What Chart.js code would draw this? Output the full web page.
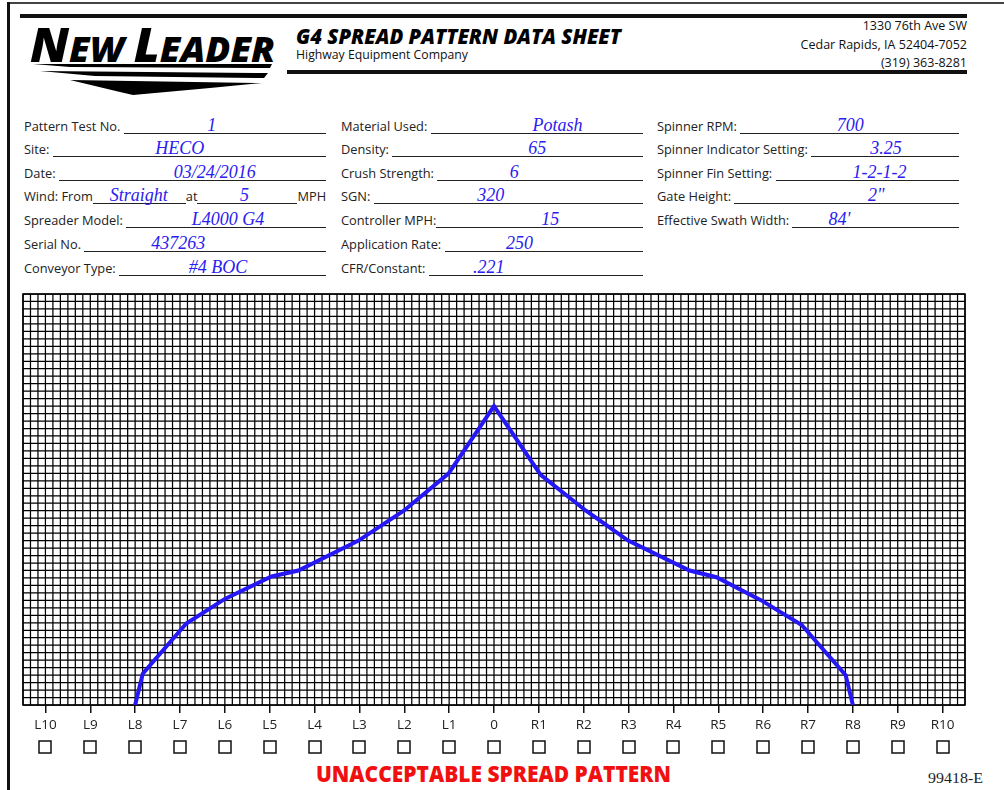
<!DOCTYPE html>
<html>
<head>
<meta charset="utf-8">
<title>G4 Spread Pattern Data Sheet</title>
<script src="https://cdn.jsdelivr.net/npm/chart.js@4.4.1/dist/chart.umd.min.js"></script>
<style>
  html, body { margin: 0; padding: 0; background: #fff; }
  body { width: 1004px; height: 790px; position: relative; overflow: hidden; font-family: "Open Sans", sans-serif; color: #222; }
  .rule { position: absolute; background: #111; }
  svg.sheet { position: absolute; left: 0; top: 0; }
  .row { position: absolute; height: 15px; display: flex; align-items: flex-end; font-size: 12.8px; line-height: 15px; white-space: nowrap; }
  .row .line { flex: 1; height: 14px; border-bottom: 1.3px solid #222; position: relative; }
  .row .line.fixed { flex: none; }
  .row i { position: absolute; bottom: -1px; transform: translateX(-50%); font-family: "Liberation Serif", serif; font-style: italic; font-size: 18px; line-height: 18px; color: #2a20f0; }
  #chartBox { position: absolute; left: 0; top: 280px; width: 1004px; height: 480px; }
</style>
</head>
<body>

<div class="rule" style="left:8px;top:2px;width:996px;height:2px;background:#444"></div>
<div class="rule" style="left:7px;top:2px;width:3px;height:788px"></div>
<div class="rule" style="left:20px;top:14px;width:947px;height:4px"></div>
<div class="rule" style="left:287px;top:70px;width:680px;height:4px"></div>

<svg class="sheet" width="1004" height="790">
  <!-- logo -->
  <text x="30" y="62" font-family="Open Sans" font-weight="800" font-style="italic" fill="#000" textLength="245" lengthAdjust="spacingAndGlyphs"><tspan font-size="47">N</tspan><tspan font-size="35">EW </tspan><tspan font-size="47">L</tspan><tspan font-size="35">EADER</tspan></text>
  <polygon points="33,64 272,64 270,68 70,67" fill="#000"/>
  <polygon points="40,71 268,73 264,78 95,76" fill="#000"/>
  <polygon points="70,80 262,83 210,88 133,95 120,92" fill="#000"/>
  <!-- title block -->
  <text x="296" y="44" font-family="Open Sans" font-weight="800" font-style="italic" font-size="21" fill="#000" textLength="325" lengthAdjust="spacingAndGlyphs">G4 SPREAD PATTERN DATA SHEET</text>
  <text x="296" y="59" font-family="Open Sans" font-size="12.5" fill="#111" textLength="172" lengthAdjust="spacingAndGlyphs">Highway Equipment Company</text>
  <g font-family="Open Sans" font-size="12.5" fill="#111" text-anchor="end">
    <text x="967" y="30">1330 76th Ave SW</text>
    <text x="967" y="49">Cedar Rapids, IA 52404-7052</text>
    <text x="967" y="67">(319) 363-8281</text>
  </g>
  <!-- footer -->
  <text x="316" y="782" font-family="Open Sans" font-weight="800" font-size="22" fill="#f01010" textLength="355" lengthAdjust="spacingAndGlyphs">UNACCEPTABLE SPREAD PATTERN</text>
  <text x="928" y="783" font-family="Liberation Serif" font-size="14.5" fill="#222" textLength="55" lengthAdjust="spacingAndGlyphs">99418-E</text>
</svg>

<!-- column 1 -->
<div class="row" style="left:24px;top:119px;width:302px"><span>Pattern Test No.&nbsp;</span><span class="line"><i style="left:88px">1</i></span></div>
<div class="row" style="left:24px;top:142px;width:302px"><span>Site:&nbsp;</span><span class="line"><i style="left:127px">HECO</i></span></div>
<div class="row" style="left:24px;top:166px;width:302px"><span>Date:&nbsp;</span><span class="line"><i style="left:156px">03/24/2016</i></span></div>
<div class="row" style="left:24px;top:189px;width:305px"><span>Wind: From</span><span class="line fixed" style="width:93px"><i style="left:46px">Straight</i></span><span>at</span><span class="line fixed" style="width:100px"><i style="left:47px">5</i></span><span>MPH</span></div>
<div class="row" style="left:24px;top:213px;width:302px"><span>Spreader Model:&nbsp;</span><span class="line"><i style="left:102px">L4000 G4</i></span></div>
<div class="row" style="left:24px;top:237px;width:302px"><span>Serial No.&nbsp;</span><span class="line"><i style="left:94px">437263</i></span></div>
<div class="row" style="left:24px;top:261px;width:302px"><span>Conveyor Type:&nbsp;</span><span class="line"><i style="left:99px">#4 BOC</i></span></div>

<!-- column 2 -->
<div class="row" style="left:341px;top:119px;width:302px"><span>Material Used:&nbsp;</span><span class="line"><i style="left:127px">Potash</i></span></div>
<div class="row" style="left:341px;top:142px;width:302px"><span>Density:&nbsp;</span><span class="line"><i style="left:145px">65</i></span></div>
<div class="row" style="left:341px;top:166px;width:302px"><span>Crush Strength:&nbsp;</span><span class="line"><i style="left:77px">6</i></span></div>
<div class="row" style="left:341px;top:189px;width:302px"><span>SGN:&nbsp;</span><span class="line"><i style="left:117px">320</i></span></div>
<div class="row" style="left:341px;top:213px;width:302px"><span>Controller MPH:</span><span class="line"><i style="left:114px">15</i></span></div>
<div class="row" style="left:341px;top:237px;width:302px"><span>Application Rate:&nbsp;</span><span class="line"><i style="left:75px">250</i></span></div>
<div class="row" style="left:341px;top:261px;width:302px"><span>CFR/Constant:&nbsp;</span><span class="line"><i style="left:60px">.221</i></span></div>

<!-- column 3 -->
<div class="row" style="left:657px;top:119px;width:302px"><span>Spinner RPM:&nbsp;</span><span class="line"><i style="left:110px">700</i></span></div>
<div class="row" style="left:657px;top:142px;width:302px"><span>Spinner Indicator Setting:&nbsp;</span><span class="line"><i style="left:75px">3.25</i></span></div>
<div class="row" style="left:657px;top:166px;width:302px"><span>Spinner Fin Setting:&nbsp;</span><span class="line"><i style="left:104px">1-2-1-2</i></span></div>
<div class="row" style="left:657px;top:189px;width:302px"><span>Gate Height:&nbsp;</span><span class="line"><i style="left:142px">2"</i></span></div>
<div class="row" style="left:657px;top:213px;width:302px"><span>Effective Swath Width:&nbsp;</span><span class="line"><i style="left:47px">84'</i></span></div>

<div id="chartBox"><canvas id="patternChart"></canvas></div>

<script>
// Posiciones de las bandejas (L10 ... 0 ... R10)
const trayLabels = ['L10', 'L9', 'L8', 'L7', 'L6', 'L5', 'L4', 'L3', 'L2', 'L1', '0',
                    'R1', 'R2', 'R3', 'R4', 'R5', 'R6', 'R7', 'R8', 'R9', 'R10'];

// Trazo del patrón: posición (en bandejas desde el centro) y altura (en cuadros)
const patternPos  = [-8, -7.83, -6.86, -6.0, -4.96, -4.36, -3.02, -2.01, -1.01, 0,
                     1.04, 2.05, 2.99, 4.36, 4.96, 5.96, 6.86, 7.84, 8];
const patternRate = [0, 4.2, 10.9, 14.2, 17.2, 18.0, 22.0, 26.0, 31.0, 40,
                     30.8, 26.0, 22.0, 18.0, 17.1, 14.0, 10.7, 4.0, 0];

const gridRows = 55;        // cuadros en vertical
const cellsPerTray = 6;     // cuadros entre dos bandejas

// Cuadrícula de papel milimetrado dentro del área del gráfico
const paperGrid = {
    id: 'paperGrid',
    beforeDatasetsDraw(chart) {
        const { ctx, chartArea, scales } = chart;
        const x = scales.x, y = scales.y;
        ctx.save();
        ctx.strokeStyle = '#000';
        ctx.lineWidth = 1.25;
        ctx.beginPath();
        const steps = Math.round((x.max - x.min) * cellsPerTray);
        for (let k = 0; k <= steps; k++) {
            const px = x.getPixelForValue(x.min + k / cellsPerTray);
            ctx.moveTo(px, chartArea.top);
            ctx.lineTo(px, chartArea.bottom);
        }
        for (let j = 0; j <= gridRows; j++) {
            const py = y.getPixelForValue(j);
            ctx.moveTo(chartArea.left, py);
            ctx.lineTo(chartArea.right, py);
        }
        ctx.stroke();
        ctx.lineWidth = 1.5;
        ctx.strokeRect(chartArea.left, chartArea.top, chartArea.right - chartArea.left, chartArea.bottom - chartArea.top);
        ctx.restore();
    },
    afterDraw(chart) {
        // casillas de verificación bajo cada bandeja
        const { ctx, chartArea, scales } = chart;
        ctx.save();
        ctx.strokeStyle = '#111';
        ctx.lineWidth = 1.5;
        scales.x.ticks.forEach(t => {
            const px = scales.x.getPixelForValue(t.value);
            ctx.strokeRect(Math.round(px) - 6, chartArea.bottom + 36, 12, 12);
        });
        ctx.restore();
    }
};

document.addEventListener('DOMContentLoaded', function() {
    const ctx = document.getElementById('patternChart').getContext('2d');
    new Chart(ctx, {
        type: 'line',
        data: {
            datasets: [{
                data: patternPos.map((p, i) => ({ x: p, y: patternRate[i] })),
                borderColor: 'rgb(38, 24, 245)',
                borderWidth: 4,
                pointRadius: 0,
                tension: 0,
                fill: false
            }]
        },
        options: {
            responsive: true,
            maintainAspectRatio: false,
            animation: false,
            layout: { padding: { left: 23, right: 39, top: 14, bottom: 25 } },
            plugins: { legend: { display: false }, tooltip: { enabled: false } },
            scales: {
                x: {
                    type: 'linear',
                    min: -10.5,
                    max: 10.5,
                    afterBuildTicks: axis => {
                        axis.ticks = trayLabels.map((_, i) => ({ value: i - 10 }));
                    },
                    afterFit: axis => { axis.height = 30; },
                    grid: { drawOnChartArea: false, drawTicks: true, tickLength: 8, color: '#111', lineWidth: 1.5 },
                    border: { display: false },
                    ticks: {
                        autoSkip: false,
                        maxRotation: 0,
                        padding: 4,
                        color: '#222',
                        font: { family: 'Open Sans', size: 13.5 },
                        callback: value => trayLabels[Math.round(value) + 10]
                    }
                },
                y: { display: false, min: 0, max: gridRows }
            }
        },
        plugins: [paperGrid]
    });
});
</script>
</body>
</html>
